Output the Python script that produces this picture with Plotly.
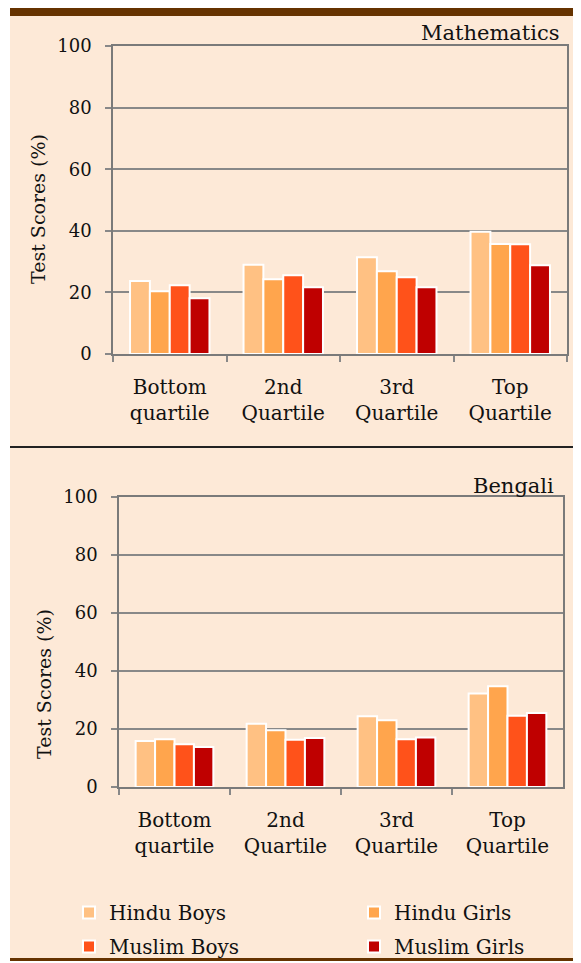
import plotly.graph_objects as go

categories = ["Bottom<br>quartile", "2nd<br>Quartile", "3rd<br>Quartile", "Top<br>Quartile"]
series_names = ["Hindu Boys", "Hindu Girls", "Muslim Boys", "Muslim Girls"]
colors = ["#FFC183", "#FFA54D", "#FF521A", "#BF0000"]

math_hindu_boys = [23.7, 29.0, 31.4, 39.7]
math_hindu_girls = [20.4, 24.3, 26.9, 35.7]
math_muslim_boys = [22.3, 25.6, 24.9, 35.6]
math_muslim_girls = [18.1, 21.7, 21.7, 28.8]

beng_hindu_boys = [15.9, 21.8, 24.4, 32.2]
beng_hindu_girls = [16.5, 19.6, 23.0, 34.7]
beng_muslim_boys = [14.7, 16.3, 16.5, 24.6]
beng_muslim_girls = [13.8, 16.9, 17.1, 25.5]

y_ticks = [0, 20, 40, 60, 80, 100]

# page body has an 8px margin, so the figure is sized to fill the rest of the window
OFF = 8
W, H = 581 - OFF, 963 - OFF
FONT = "DejaVu Serif"
BG = "#FDE9D7"
BROWN = "#663300"


def py(px):
    return 1 - (px - OFF) / H


def pxx(px):
    return (px - OFF) / W


fig = go.Figure()

math_vals = [math_hindu_boys, math_hindu_girls, math_muslim_boys, math_muslim_girls]
beng_vals = [beng_hindu_boys, beng_hindu_girls, beng_muslim_boys, beng_muslim_girls]

for name, vals, c in zip(series_names, math_vals, colors):
    fig.add_trace(go.Bar(x=categories, y=vals, name=name, marker=dict(color=c, line=dict(color="white", width=2)),
                         xaxis="x", yaxis="y", showlegend=True, legendgroup=name))
for name, vals, c in zip(series_names, beng_vals, colors):
    fig.add_trace(go.Bar(x=categories, y=vals, name=name, marker=dict(color=c, line=dict(color="white", width=2)),
                         xaxis="x2", yaxis="y2", showlegend=False, legendgroup=name))

axis_common_y = dict(range=[0, 100], tickvals=y_ticks, showgrid=True, gridcolor="#888888", gridwidth=1.5,
                     showline=True, linecolor="#7a7a7a", linewidth=1.5, mirror=True,
                     ticks="outside", ticklen=6, tickcolor="#888888", tickwidth=1.5,
                     tickfont=dict(family=FONT, size=18, color="#111"), ticklabelstandoff=10,
                     zeroline=False, fixedrange=True)
axis_common_x = dict(type="category", showline=True, linecolor="#7a7a7a", linewidth=1.5, mirror=True,
                     ticks="outside", ticklen=6, tickcolor="#888888", tickwidth=1.5, tickson="boundaries",
                     tickfont=dict(family=FONT, size=20, color="#111"), ticklabelstandoff=14,
                     fixedrange=True)

fig.update_layout(
    width=W, height=H,
    margin=dict(l=0, r=0, t=0, b=0, autoexpand=False),
    paper_bgcolor="white",
    plot_bgcolor="white",
    barmode="group", bargap=0.3, bargroupgap=0.0,
    xaxis=dict(domain=[pxx(113), pxx(567)], anchor="y", **axis_common_x),
    yaxis=dict(domain=[py(354), py(46)], anchor="x", **axis_common_y),
    xaxis2=dict(domain=[pxx(119), pxx(563)], anchor="y2", **axis_common_x),
    yaxis2=dict(domain=[py(787), py(497)], anchor="x2", **axis_common_y),
    legend=dict(orientation="h", x=pxx(69), y=py(893), xanchor="left", yanchor="top",
                entrywidth=240, entrywidthmode="pixels", traceorder="grouped", tracegroupgap=5,
                font=dict(family=FONT, size=20, color="#111"), bgcolor="rgba(0,0,0,0)",
                itemclick=False, itemdoubleclick=False),
    shapes=[
        dict(type="rect", xref="paper", yref="paper", x0=pxx(10), x1=1, y0=py(961), y1=1,
             fillcolor=BG, line=dict(width=0), layer="below"),
        dict(type="rect", xref="paper", yref="paper", x0=pxx(10), x1=1, y0=py(16), y1=1,
             fillcolor=BROWN, line=dict(width=0), layer="below"),
        dict(type="rect", xref="paper", yref="paper", x0=pxx(10), x1=1, y0=py(961), y1=py(958),
             fillcolor=BROWN, line=dict(width=0), layer="below"),
        dict(type="line", xref="paper", yref="paper", x0=pxx(10), x1=1, y0=py(447), y1=py(447),
             line=dict(color="#222", width=2)),
    ],
    annotations=[
        dict(text="Mathematics", xref="paper", yref="paper", x=pxx(562), y=py(33), xanchor="right",
             yanchor="middle", showarrow=False, font=dict(family=FONT, size=21, color="#111")),
        dict(text="Bengali", xref="paper", yref="paper", x=pxx(556), y=py(486), xanchor="right",
             yanchor="middle", showarrow=False, font=dict(family=FONT, size=21, color="#111")),
        dict(text="Test Scores (%)", xref="paper", yref="paper", x=pxx(38), y=py(209), textangle=-90,
             xanchor="center", yanchor="middle", showarrow=False, font=dict(family=FONT, size=19, color="#111")),
        dict(text="Test Scores (%)", xref="paper", yref="paper", x=pxx(44), y=py(684), textangle=-90,
             xanchor="center", yanchor="middle", showarrow=False, font=dict(family=FONT, size=19, color="#111")),
    ],
)

fig.write_html("out.html")
